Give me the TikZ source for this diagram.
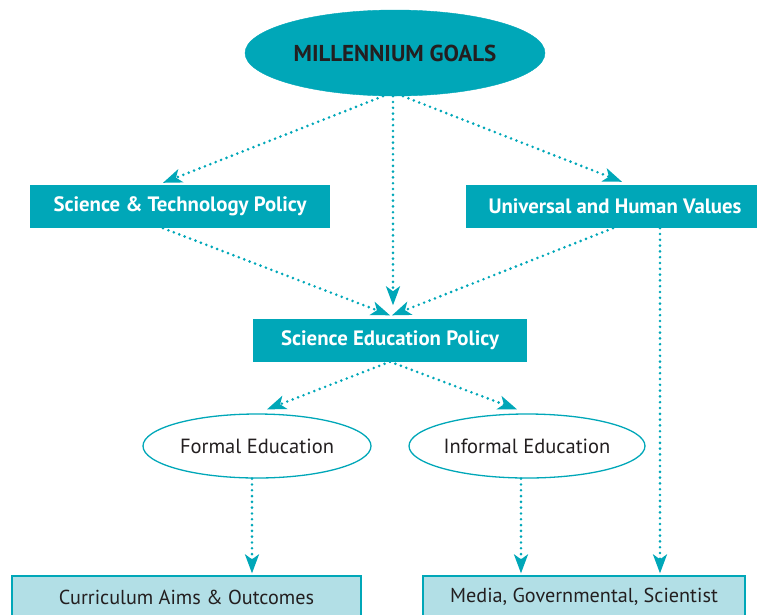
\documentclass[tikz,border=0pt]{standalone}
\usepackage{fontspec}
\setmainfont{PT Sans}
\usetikzlibrary{shapes.geometric,arrows.meta}
\definecolor{teal}{HTML}{00A7B8}
\definecolor{paleteal}{HTML}{B2DFE6}
\definecolor{ink}{HTML}{231F20}
\tikzset{
	goal/.style={ellipse,fill=teal,draw=teal,minimum width=300pt,minimum height=86pt,inner sep=0pt,text=ink,font=\bfseries\fontsize{23}{27}\selectfont},
	policybox/.style={rectangle,fill=teal,minimum height=43pt,inner sep=0pt,text=white,font=\bfseries\fontsize{20.8}{24}\selectfont},
	edu/.style={ellipse,draw=teal,line width=1.3pt,minimum width=228pt,minimum height=64pt,inner sep=0pt,text=ink,font=\fontsize{20.5}{24}\selectfont},
	outcome/.style={rectangle,fill=paleteal,draw=teal,line width=1.3pt,minimum height=42pt,inner sep=0pt,text=ink,font=\fontsize{20.2}{24}\selectfont},
	flow/.style={teal,line width=2.9pt,line cap=round,dash pattern=on 0pt off 5.8pt,-{Stealth[length=19pt,width=14pt,inset=5pt]}}
}
\begin{document}
\begin{tikzpicture}[x=1pt,y=-1pt]
	\useasboundingbox (0,0) rectangle (757,614);
	\node[goal] (goals) at (395,53) {MILLENNIUM GOALS};
	\node[policybox,minimum width=300pt] (stpolicy) at (180,206.5) {Science \& Technology Policy};
	\node[policybox,minimum width=298pt] (values) at (615,206.5) {Universal and Human Values};
	\node[policybox,minimum width=274pt] (sepolicy) at (390,340) {Science Education Policy};
	\node[edu] (formal) at (257,446) {Formal Education};
	\node[edu] (informal) at (527,446) {Informal Education};
	\node[outcome,minimum width=349pt] (curriculum) at (186.5,597) {Curriculum Aims \& Outcomes};
	\node[outcome,minimum width=322pt] (media) at (584,597) {Media, Governmental, Scientist};
	\draw[flow] ([xshift=-12pt]goals.south) -- ([xshift=-17pt,yshift=2pt]stpolicy.north);
	\draw[flow] ([xshift=-2pt]goals.south) -- ([xshift=-2pt,yshift=13pt]goals.south |- sepolicy.north);
	\draw[flow] ([xshift=8pt]goals.south) -- ([xshift=7pt,yshift=3pt]values.north);
	\draw[flow] ([xshift=-17pt]stpolicy.south) -- ([yshift=3pt]sepolicy.north);
	\draw[flow] ([xshift=-2pt]values.south) -- ([xshift=2pt,yshift=3pt]sepolicy.north);
	\draw[flow] ([xshift=45pt]values.south) -- ([xshift=45pt,yshift=2pt]values.south |- media.north);
	\draw[flow] (sepolicy.south) -- ([xshift=10pt,yshift=4pt]formal.north);
	\draw[flow] (sepolicy.south) -- ([xshift=-10pt,yshift=4pt]informal.north);
	\draw[flow] ([xshift=-5pt]formal.south) -- ([xshift=-5pt,yshift=2pt]formal.south |- curriculum.north);
	\draw[flow] ([xshift=-6pt]informal.south) -- ([xshift=-6pt,yshift=2pt]informal.south |- media.north);
\end{tikzpicture}
\end{document}
